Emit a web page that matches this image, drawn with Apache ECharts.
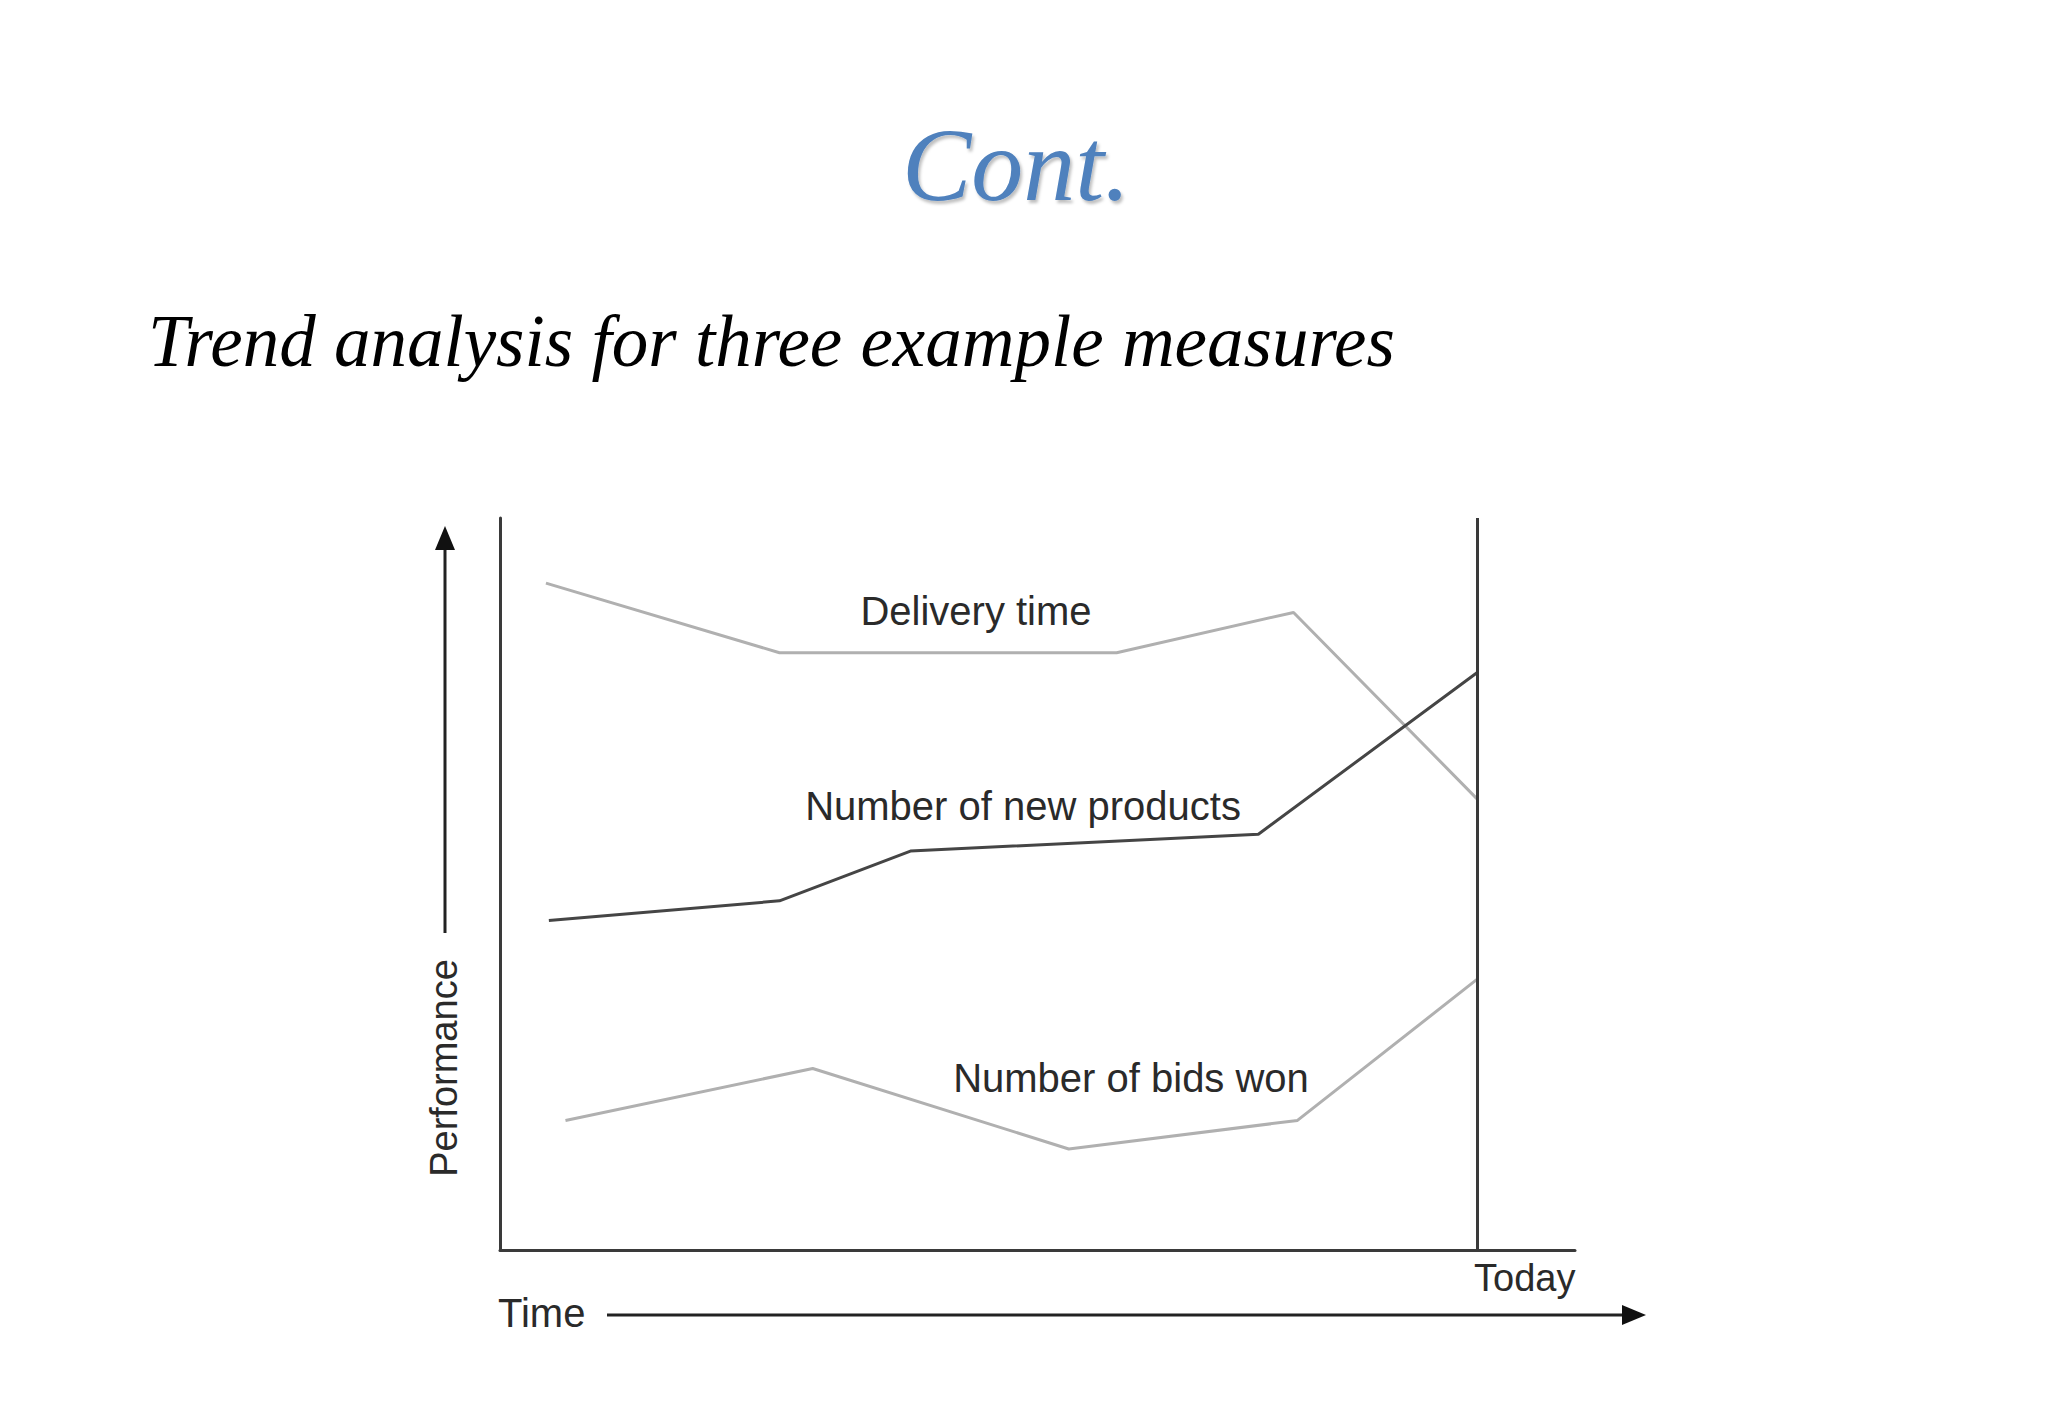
<!DOCTYPE html>
<html>
<head>
<meta charset="utf-8">
<style>
html,body{margin:0;padding:0;background:#ffffff;}
#chart{width:2048px;height:1418px;}
</style>
<script src="https://cdn.jsdelivr.net/npm/echarts@6/dist/echarts.min.js"></script>
</head>
<body>
<div id="chart"></div>
<script>
// Time positions (Today = 100) and performance values (0..100)
const deliveryTimeX = [4.7, 28.6, 63.1, 81.2, 100];
const deliveryTimeY = [91.1, 81.6, 81.6, 87.1, 61.6];
const newProductsX = [5.0, 28.6, 42.0, 77.6, 100];
const newProductsY = [45.0, 47.7, 54.5, 56.8, 78.9];
const bidsWonX = [6.7, 32.0, 58.2, 81.6, 100];
const bidsWonY = [17.7, 24.8, 13.8, 17.7, 37.0];
const todayX = 100;

const titleText = 'Cont.';
const subtitleText = 'Trend analysis for three example measures';
const seriesNames = ['Delivery time', 'Number of new products', 'Number of bids won'];
const xAxisName = 'Time';
const yAxisName = 'Performance';
const todayLabel = 'Today';

function pairs(xs, ys) { return xs.map((x, i) => [x, ys[i]]); }

const chart = echarts.init(document.getElementById('chart'), null, {renderer: 'svg'});
const axisColor = '#3a3a3a';
const labelFont = '"Liberation Sans", Arial, sans-serif';

chart.setOption({
  backgroundColor: '#ffffff',
  animation: false,
  grid: {left: 500, top: 518, width: 1075, height: 732, containLabel: false},
  xAxis: {
    type: 'value', min: 0, max: 110,
    axisLine: {show: true, lineStyle: {color: axisColor, width: 3}},
    axisTick: {show: false}, axisLabel: {show: false}, splitLine: {show: false}
  },
  yAxis: {
    type: 'value', min: 0, max: 100,
    axisLine: {show: true, lineStyle: {color: axisColor, width: 3}},
    axisTick: {show: false}, axisLabel: {show: false}, splitLine: {show: false}
  },
  series: [
    {
      name: seriesNames[0], type: 'line', symbol: 'none',
      data: pairs(deliveryTimeX, deliveryTimeY),
      lineStyle: {color: '#b0b0b0', width: 3},
      markLine: {
        silent: true, symbol: 'none', animation: false,
        label: {show: false},
        lineStyle: {color: axisColor, width: 3, type: 'solid'},
        data: [{xAxis: todayX}]
      }
    },
    {
      name: seriesNames[1], type: 'line', symbol: 'none',
      data: pairs(newProductsX, newProductsY),
      lineStyle: {color: '#454545', width: 3}
    },
    {
      name: seriesNames[2], type: 'line', symbol: 'none',
      data: pairs(bidsWonX, bidsWonY),
      lineStyle: {color: '#b0b0b0', width: 3}
    }
  ],
  graphic: [
    {type: 'text', x: 1016, y: 164, style: {
      text: titleText, font: 'italic 104px "Liberation Serif", "Times New Roman", serif',
      fill: '#4f81bd', textAlign: 'center', textVerticalAlign: 'middle',
      textShadowColor: 'rgba(0,0,0,0.25)', textShadowOffsetX: 2, textShadowOffsetY: 3, textShadowBlur: 3
    }},
    {type: 'text', x: 148, y: 341, style: {
      text: subtitleText, font: 'italic 73px "Liberation Serif", "Times New Roman", serif',
      fill: '#000000', textAlign: 'left', textVerticalAlign: 'middle'
    }},
    {type: 'text', x: 976, y: 611, style: {
      text: seriesNames[0], font: '40px ' + labelFont, fill: '#2a2a2a',
      textAlign: 'center', textVerticalAlign: 'middle'
    }},
    {type: 'text', x: 1023, y: 806, style: {
      text: seriesNames[1], font: '40px ' + labelFont, fill: '#2a2a2a',
      textAlign: 'center', textVerticalAlign: 'middle'
    }},
    {type: 'text', x: 1131, y: 1078, style: {
      text: seriesNames[2], font: '40px ' + labelFont, fill: '#2a2a2a',
      textAlign: 'center', textVerticalAlign: 'middle'
    }},
    {type: 'text', x: 1474, y: 1278, style: {
      text: todayLabel, font: '38px ' + labelFont, fill: '#2a2a2a',
      textAlign: 'left', textVerticalAlign: 'middle'
    }},
    {type: 'text', x: 498, y: 1313, style: {
      text: xAxisName, font: '40px ' + labelFont, fill: '#2a2a2a',
      textAlign: 'left', textVerticalAlign: 'middle'
    }},
    {type: 'text', x: 444, y: 1068, rotation: Math.PI / 2, style: {
      text: yAxisName, font: '38px ' + labelFont, fill: '#2a2a2a',
      textAlign: 'center', textVerticalAlign: 'middle'
    }},
    // x arrow
    {type: 'line', shape: {x1: 607, y1: 1315, x2: 1628, y2: 1315}, style: {stroke: '#222', lineWidth: 3}},
    {type: 'polygon', shape: {points: [[1646, 1315], [1622, 1305], [1622, 1325]]}, style: {fill: '#111'}},
    // y arrow
    {type: 'line', shape: {x1: 445, y1: 933, x2: 445, y2: 545}, style: {stroke: '#222', lineWidth: 3}},
    {type: 'polygon', shape: {points: [[445, 526], [435, 550], [455, 550]]}, style: {fill: '#111'}}
  ]
});
</script>
</body>
</html>
